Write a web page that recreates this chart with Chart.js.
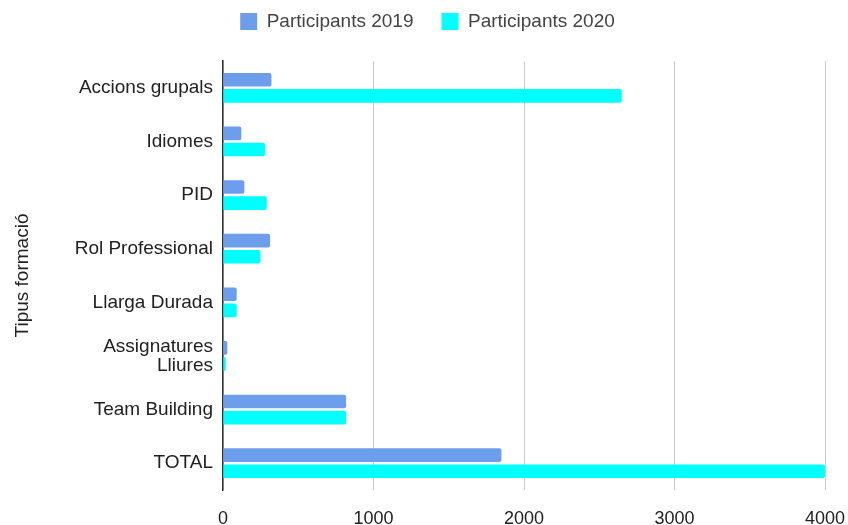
<!DOCTYPE html>
<html>
<head>
<meta charset="utf-8">
<script src="https://cdn.jsdelivr.net/npm/chart.js@4"></script>
<style>
  html, body { margin: 0; padding: 0; background: #fff; }
  #wrap { width: 848px; height: 525px; }
</style>
</head>
<body>
<div id="wrap"><canvas id="barChart" width="848" height="525"></canvas></div>
<script>
// Chart data
const categories = [
    'Accions grupals',
    'Idiomes',
    'PID',
    'Rol Professional',
    'Llarga Durada',
    ['Assignatures', 'Lliures'],
    'Team Building',
    'TOTAL'
];
const participants2019 = [322, 122, 142, 313, 91, 29, 818, 1850];
const participants2020 = [2650, 280, 291, 249, 91, 18, 818, 4000];
const xTicks = [0, 1000, 2000, 3000, 4000];

const fontFamily = 'Arial, "Liberation Sans", sans-serif';

// Extra room under the legend
const legendSpacer = {
    id: 'legendSpacer',
    beforeInit(chart) {
        const origFit = chart.legend.fit;
        chart.legend.fit = function () {
            origFit.bind(chart.legend)();
            this.height += 20;
        };
    }
};

const plotData = {
    labels: categories,
    datasets: [{
        label: 'Participants 2019',
        data: participants2019,
        backgroundColor: '#6d9eeb',
        borderRadius: 2,
        borderSkipped: 'start',
        categoryPercentage: 0.6,
        barPercentage: 0.85
    }, {
        label: 'Participants 2020',
        data: participants2020,
        backgroundColor: '#00ffff',
        borderRadius: 2,
        borderSkipped: 'start',
        categoryPercentage: 0.6,
        barPercentage: 0.85
    }]
};

const plotConfig = {
    type: 'bar',
    data: plotData,
    plugins: [legendSpacer],
    options: {
        indexAxis: 'y',
        responsive: false,
        animation: false,
        layout: { padding: { top: -16, right: 4, bottom: 0, left: 11 } },
        plugins: {
            legend: {
                position: 'top',
                labels: {
                    boxWidth: 17,
                    boxHeight: 17,
                    padding: 28,
                    color: '#444',
                    font: { family: fontFamily, size: 19 }
                }
            },
            tooltip: { enabled: false }
        },
        scales: {
            x: {
                min: 0,
                max: 4000,
                afterBuildTicks: scale => {
                    scale.ticks = xTicks.map(v => ({ value: v }));
                },
                afterFit: scale => {
                    scale.height = 35;
                    scale.paddingLeft = 0;
                    scale.paddingRight = 23;
                },
                grid: { color: '#cccccc', lineWidth: 1, drawTicks: false },
                border: { display: false },
                ticks: {
                    padding: 18,
                    color: '#222',
                    font: { family: fontFamily, size: 18 },
                    callback: v => String(v)
                }
            },
            y: {
                grid: { display: false, drawTicks: false },
                border: { display: true, color: '#333', width: 1.5 },
                afterFit: scale => { scale.width = 212; },
                ticks: {
                    padding: 10,
                    color: '#222',
                    font: { family: fontFamily, size: 19, lineHeight: 1.0 }
                },
                title: {
                    display: true,
                    text: 'Tipus formació',
                    color: '#222',
                    font: { family: fontFamily, size: 19 },
                    padding: { top: 0, bottom: 0 }
                }
            }
        }
    }
};

window.chart = new Chart(document.getElementById('barChart'), plotConfig);
</script>
</body>
</html>
